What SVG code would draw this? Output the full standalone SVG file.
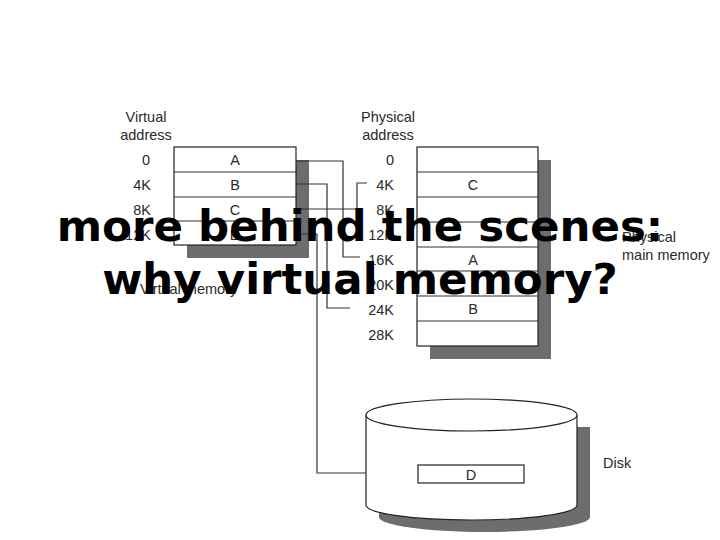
<svg xmlns="http://www.w3.org/2000/svg" width="720" height="540" viewBox="0 0 720 540">
<style>
.l{font-family:"Liberation Sans",Arial,sans-serif;font-size:14.5px;fill:#2a2a2a}
.c{text-anchor:middle}
.r{text-anchor:end}
.box{fill:#fff;stroke:#222;stroke-width:1.2}
.sh{fill:#6d6d70}
.w{fill:none;stroke:#333;stroke-width:1.2}
.t{font-family:"DejaVu Sans",sans-serif;font-weight:bold;font-size:43.5px;fill:#000;text-anchor:middle}
</style>
<rect width="720" height="540" fill="#fff"/>
<g id="virtual">
<rect class="sh" x="187" y="160" width="122" height="98"/>
<rect class="box" x="174" y="147" width="122" height="98"/>
<path class="w" d="M174 172H296M174 197H296M174 221H296"/>
<text class="l c" x="235" y="165">A</text><text class="l c" x="235" y="190">B</text><text class="l c" x="235" y="215">C</text><text class="l c" x="235" y="240">D</text>
<text class="l c" x="146" y="122">Virtual</text><text class="l c" x="146" y="140">address</text>
<text class="l c" x="146" y="165">0</text><text class="l c" x="142" y="190">4K</text><text class="l c" x="142" y="215">8K</text><text class="l c" x="138" y="240">12K</text>
<text class="l" x="140" y="294">Virtual memory</text>
</g>
<g id="physical">
<rect class="sh" x="430" y="160" width="121" height="199"/>
<rect class="box" x="417" y="147" width="121" height="199"/>
<path class="w" d="M417 172H538M417 197H538M417 222H538M417 247H538M417 271H538M417 296H538M417 321H538"/>
<text class="l c" x="473" y="190">C</text><text class="l c" x="473" y="265">A</text><text class="l c" x="473" y="314">B</text>
<text class="l c" x="388" y="122">Physical</text><text class="l c" x="388" y="140">address</text>
<text class="l r" x="394" y="165">0</text><text class="l r" x="394" y="190">4K</text><text class="l r" x="394" y="215">8K</text><text class="l r" x="394" y="240">12K</text><text class="l r" x="394" y="265">16K</text><text class="l r" x="394" y="290">20K</text><text class="l r" x="394" y="315">24K</text><text class="l r" x="394" y="340">28K</text>
<text class="l" x="622" y="242">Physical</text><text class="l" x="622" y="260">main memory</text>
</g>
<g id="disk">
<path class="sh" d="M379 427V517A105.5 15 0 0 0 590 517V427Z"/>
<path class="box" d="M366 415V505A105.5 15 0 0 0 577 505V415"/>
<ellipse class="box" cx="471.5" cy="415" rx="105.5" ry="16"/>
<rect class="box" x="418" y="465" width="106" height="18"/>
<text class="l c" x="471" y="480">D</text>
<text class="l" x="603" y="468">Disk</text>
</g>
<g id="connectors" class="w">
<path d="M296 161H343V257H360"/>
<path d="M296 184H327V308H350"/>
<path d="M296 209H357V183H367"/>
<path d="M296 234H317V473H366"/>
</g>
<g id="title">
<text class="t" x="360" y="241">more behind the scenes:</text>
<text class="t" x="360" y="294">why virtual memory?</text>
</g>
</svg>
